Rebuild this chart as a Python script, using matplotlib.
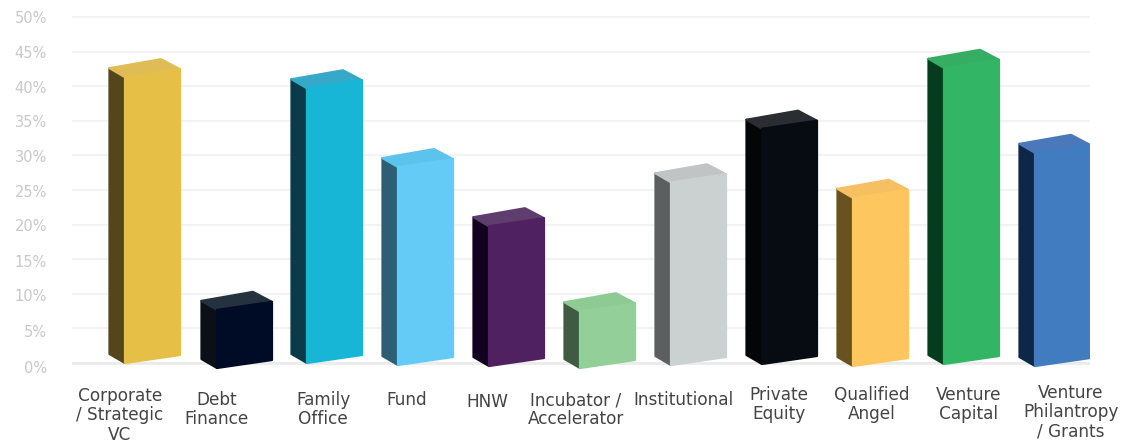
import matplotlib
matplotlib.use('Agg')
import matplotlib.pyplot as plt
from matplotlib.patches import Polygon

categories = ["Corporate\n/ Strategic\nVC", "Debt\nFinance", "Family\nOffice", "Fund", "HNW",
              "Incubator /\nAccelerator", "Institutional", "Private\nEquity", "Qualified\nAngel",
              "Venture\nCapital", "Venture\nPhilantropy\n/ Grants"]
values = [41.3, 8.4, 39.7, 28.6, 20.2, 8.2, 26.4, 34.0, 24.3, 42.8, 30.8]
tick_vals = [0, 5, 10, 15, 20, 25, 30, 35, 40, 45, 50]
tick_labels = [f"{v}%" for v in tick_vals]

front_cols = ["#E6BF47", "#000B25", "#17B6D6", "#64CBF6", "#4F2160", "#92CF99",
              "#CBD0D1", "#070C12", "#FDC65E", "#33B566", "#417BC0"]
side_cols = ["#54451C", "#0B0F17", "#0B3B49", "#2C5F73", "#12021F", "#415B42",
             "#5B5F60", "#030506", "#6A5220", "#063C1E", "#0D2748"]
top_cols = ["#E0BC57", "#24323F", "#35A9C7", "#5CC3ED", "#5F3D6F", "#8ECB94",
            "#C0C4C4", "#2A2E33", "#F6C062", "#35AE64", "#4A78BB"]

# the baseline and label spots wander a bit in the original
base_drop = [0, 5, 0, 2, 3, 5, 2, 1, 3, 1, 3]
bar_nudge = [0, 1, 0, 0, 0, 0, 0, 0, 0, 0, 0]
label_dx = [-33, -27, -12, -19, -30, -32, -15, -11, -9, -3, 8]
label_y = [396, 400, 400, 400, 402, 400, 400, 395, 395, 395, 393]
tick_drop = [5, 4, 3, 3, 2, 2, 2, 2, 2, 2, 1]

PX_X = 1 / 91      # index units per pixel
PX_Y = 1 / 6.92    # percent per pixel

fig = plt.figure(figsize=(11.37, 4.44), dpi=100)
ax = fig.add_axes([72 / 1137, (444 - 377) / 444, (1090 - 72) / 1137, (377 - 10) / 444])
ax.set_xlim(-81 * PX_X, (1090 - 153) * PX_X)
ax.set_ylim(-14 * PX_Y, 353 * PX_Y)

for s in ax.spines.values():
    s.set_visible(False)
ax.set_xticks([])
ax.set_yticks(tick_vals)
ax.set_yticklabels([])
ax.tick_params(axis="y", length=0)
ax.grid(axis="y", color="#f3f3f3", linewidth=1.5)
ax.axhline(0, color="#ebebeb", linewidth=2, zorder=1)
ax.set_axisbelow(True)

# percent labels slide down slightly towards the bottom, so place them by hand
for v, lab, d in zip(tick_vals, tick_labels, tick_drop):
    ax.annotate(lab, xy=(ax.get_xlim()[0], v), xytext=(-25, -d), textcoords="offset pixels",
                ha="right", va="center", fontsize=10.5, color="#c8c8c8", annotation_clip=False)

w = 55 * PX_X
dep = 15.5 * PX_X
for i, v in enumerate(values):
    left = i - 28 * PX_X + bar_nudge[i] * PX_X
    b = -base_drop[i] * PX_Y
    t = b + v
    skew = 8 * PX_Y
    back = 9 * PX_Y
    front = [(left, b), (left + w, b + skew), (left + w, t + skew), (left, t)]
    side = [(left - dep, b + back), (left, b), (left, t), (left - dep, t + back)]
    top = [(left, t), (left - dep, t + back), (left + 36 * PX_X, t + 2 * back), (left + w, t + skew)]
    for pts, col in ((side, side_cols[i]), (top, top_cols[i]), (front, front_cols[i])):
        ax.add_patch(Polygon(pts, closed=True, facecolor=col, edgecolor=col,
                             linewidth=1.6, joinstyle="round", zorder=3))

    ax.annotate(categories[i], xy=(i, 0), xycoords="data",
                xytext=(label_dx[i], (363 - label_y[i]) + 9), textcoords="offset pixels",
                ha="center", va="top", multialignment="center", fontsize=12.2,
                linespacing=1.1, color="#444444", annotation_clip=False)

fig.savefig("out.png", dpi=100)
plt.close(fig)
